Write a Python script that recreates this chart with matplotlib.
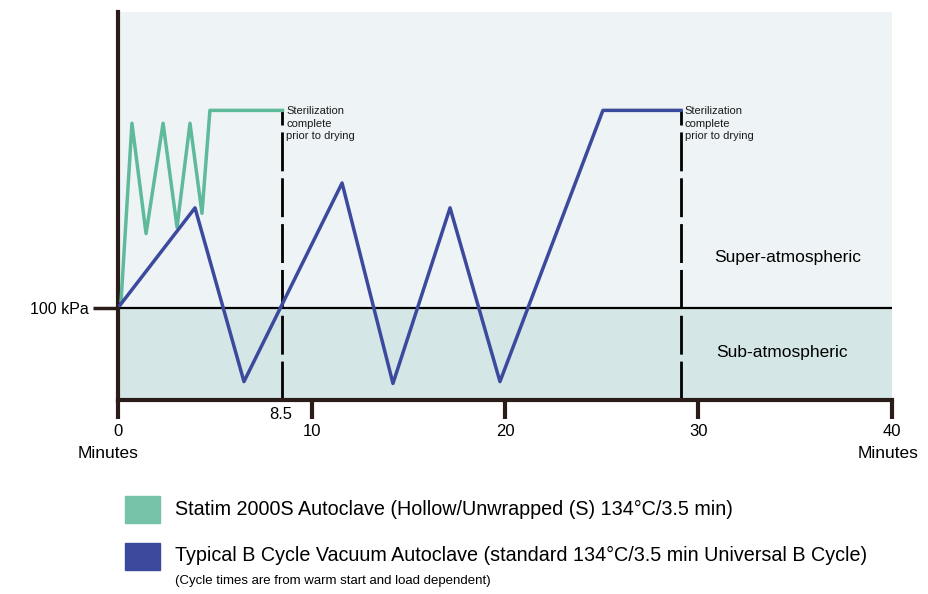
import matplotlib.pyplot as plt
import matplotlib.patches as mpatches

plt.rcParams['font.family'] = ['Liberation Sans', 'DejaVu Sans']

# pressure traces, x in minutes, y in arbitrary units (100 = 100 kPa)
statim_t = [0.16, 0.72, 1.45, 2.33, 3.05, 3.72, 4.34, 4.75, 8.5]
statim_p = [108, 301, 181, 301, 188, 301, 203, 315, 315]

bcycle_t = [0.1, 3.98, 6.51, 11.58, 14.21, 17.16, 19.74, 25.06, 29.1]
bcycle_p = [103, 209, 20, 236, 18, 209, 20, 315, 315]

end_times = [8.5, 29.1]
xticks = [0, 10, 20, 30, 40]

green = '#5fba9c'
blue = '#3b4a9c'
dark = '#2a1c18'

fig = plt.figure(figsize=(9.29, 5.94), dpi=100)
fig.patch.set_facecolor('white')
ax = fig.add_axes([118/929, 1-400/594, (892-118)/929, 388/594])
ax.set_xlim(0, 40)
ax.set_ylim(0, 422)
ax.set_facecolor('#eef3f6')
ax.axhspan(0, 100, color='#d4e7e6', zorder=0)
ax.axhline(100, color='black', lw=1.6, zorder=2)

for t in end_times:
    ax.plot([t, t], [0, 315], color='black', lw=2, ls=(0, (14, 2.5)), zorder=2)
    ax.text(t + 0.2, 320, 'Sterilization\ncomplete\nprior to drying', fontsize=8,
            va='top', ha='left', linespacing=1.35, color='#1a1a1a')

ax.plot(statim_t, statim_p, color=green, lw=2.5, zorder=3)
ax.plot(bcycle_t, bcycle_p, color=blue, lw=2.5, zorder=4)

ax.text(34.6, 155, 'Super-atmospheric', fontsize=12.5, ha='center', va='center')
ax.text(34.3, 52, 'Sub-atmospheric', fontsize=12.5, ha='center', va='center')

for s in ['top', 'right']:
    ax.spines[s].set_visible(False)
ax.spines['left'].set_linewidth(3)
ax.spines['bottom'].set_linewidth(3)
ax.spines['left'].set_color(dark)
ax.spines['bottom'].set_color(dark)

ax.set_xticks(xticks)
ax.set_xticklabels([str(v) for v in xticks], fontsize=12)
ax.tick_params(axis='x', length=14, width=3, color=dark, pad=3)
ax.set_yticks([100])
ax.set_yticklabels(['100 kPa'], fontsize=11.5)
ax.tick_params(axis='y', length=18, width=2.5, color=dark, pad=3)
ax.text(8.4, -8, '8.5', fontsize=12, ha='center', va='top', clip_on=False)
ax.text(-0.5, -50, 'Minutes', fontsize=12.5, ha='center', va='top', clip_on=False)
ax.text(39.8, -50, 'Minutes', fontsize=12.5, ha='center', va='top', clip_on=False)

# legend
fig.patches.append(mpatches.Rectangle((125/929, 1-523/594), 35/929, 27/594,
                                      color='#76c2a8', transform=fig.transFigure))
fig.patches.append(mpatches.Rectangle((125/929, 1-570/594), 35/929, 27/594,
                                      color=blue, transform=fig.transFigure))
fig.text(175/929, 1-509/594, 'Statim 2000S Autoclave (Hollow/Unwrapped (S) 134\u00b0C/3.5 min)',
         fontsize=14.2, va='center')
fig.text(175/929, 1-555/594,
         'Typical B Cycle Vacuum Autoclave (standard 134\u00b0C/3.5 min Universal B Cycle)',
         fontsize=14.2, va='center')
fig.text(175/929, 1-581/594, '(Cycle times are from warm start and load dependent)',
         fontsize=9.5, va='center')

fig.savefig('out.png', dpi=100)
